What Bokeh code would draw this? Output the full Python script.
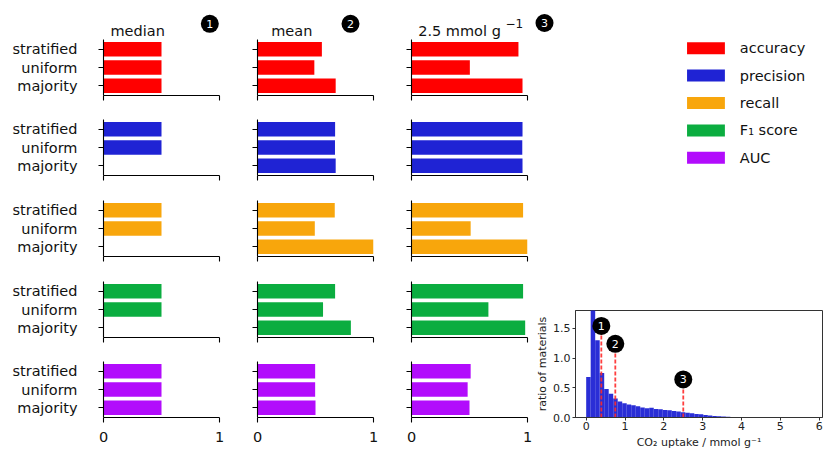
from bokeh.plotting import figure
from bokeh.layouts import row, column
from bokeh.models import Range1d, FixedTicker, NumeralTickFormatter
from bokeh.embed import file_html
from bokeh.resources import INLINE
from bokeh.core.properties import value
import numpy as np

FONT = "DejaVu Sans"
MAIN_SIZE = "14.5px"

# ---------------- data ----------------
methods = ["stratified", "uniform", "majority"]
method_pos = [2, 1, 0]
thresholds = ["median", "mean", "2.5 mmol g"]
threshold_badges = ["1", "2", "3"]
metrics = ["accuracy", "precision", "recall", "F\u2081 score", "AUC"]
metric_colors = ["#ff0000", "#1f23d4", "#f8a60c", "#0bad40", "#b20cfc"]

accuracy_median = [0.50, 0.50, 0.50]
accuracy_mean = [0.555, 0.49, 0.674]
accuracy_25 = [0.922, 0.503, 0.957]

precision_median = [0.50, 0.50, 0.0]
precision_mean = [0.669, 0.668, 0.674]
precision_25 = [0.957, 0.955, 0.957]

recall_median = [0.50, 0.50, 0.0]
recall_mean = [0.666, 0.494, 1.0]
recall_25 = [0.962, 0.51, 1.0]

f1_median = [0.50, 0.50, 0.0]
f1_mean = [0.669, 0.565, 0.805]
f1_25 = [0.962, 0.663, 0.980]

auc_median = [0.50, 0.50, 0.50]
auc_mean = [0.497, 0.497, 0.50]
auc_25 = [0.51, 0.484, 0.50]

scores = [
    [accuracy_median, accuracy_mean, accuracy_25],
    [precision_median, precision_mean, precision_25],
    [recall_median, recall_mean, recall_25],
    [f1_median, f1_mean, f1_25],
    [auc_median, auc_mean, auc_25],
]

# histogram of CO2 uptake (ratio of materials per bin)
hist_range = (0.0, 5.8)
hist_heights = [0.68, 2.40, 1.30, 0.75, 0.48, 0.40, 0.32, 0.27, 0.24, 0.22,
                0.205, 0.19, 0.17, 0.155, 0.165, 0.145, 0.14, 0.125, 0.12, 0.11,
                0.10, 0.09, 0.08, 0.07, 0.06, 0.055, 0.04, 0.035, 0.025, 0.02,
                0.015, 0.012, 0.010, 0.008, 0.006, 0.005, 0.004, 0.003, 0.003, 0.002,
                0.002, 0.001, 0.001, 0.001, 0.001, 0.0005, 0.0005, 0.0005, 0.0005, 0.0005]
threshold_values = [0.39, 0.75, 2.5]
threshold_marker_heights = [1.54, 1.24, 0.64]
hist_yticks = [0.0, 0.5, 1.0, 1.5]
hist_xticks = [0, 1, 2, 3, 4, 5, 6]

HIST_BLUE = "#1f23d4"
DASH_RED = "#ff2a2a"
TEXT_COLOR = "#111111"


def blank_fig(w, h, xr, yr, lb=0, rb=0):
    p = figure(width=w, height=h, x_range=Range1d(*xr), y_range=Range1d(*yr),
               output_backend="svg", toolbar_location=None,
               x_axis_location=None, y_axis_location=None,
               min_border=0, min_border_left=lb, min_border_right=rb,
               min_border_top=0, min_border_bottom=0)
    p.outline_line_color = None
    p.grid.visible = False
    p.background_fill_color = None
    p.border_fill_color = "white"
    return p


# ---------------- header (titles + badges), pixel frame ----------------
HEADER_W = 826
HEADER_H = 39
header = blank_fig(HEADER_W, HEADER_H, (0, HEADER_W), (HEADER_H, 0))
title_x = [110, 270.7, 417.7]
header.text(x=title_x, y=[30] * 3, text=thresholds,
            text_font=value(FONT), text_font_size=MAIN_SIZE,
            text_color=TEXT_COLOR, text_baseline="alphabetic", text_align="left")
header.text(x=[505], y=[22.7], text=["\u22121"], text_font=value(FONT),
            text_font_size="12px", text_color=TEXT_COLOR,
            text_baseline="alphabetic", text_align="left")
badge_x = [209.3, 350, 544]
badge_y = [23.3, 23.3, 22.5]
header.scatter(x=badge_x, y=badge_y, size=18, marker="circle",
               fill_color="black", line_color=None)
header.text(x=badge_x, y=[b + 0.2 for b in badge_y], text=threshold_badges,
            text_font=value(FONT), text_font_size="11px", text_color="white",
            text_align="center", text_baseline="middle")

# ---------------- bar panels ----------------
row_bottoms = [24, 25, 25, 24, 30]
FRAME_W = 116
FRAME_H = 56

panel_rows = []
for mi, metric in enumerate(metrics):
    figs = []
    for ti, thr in enumerate(thresholds):
        lb = 103 if ti == 0 else 28
        rb = 10 if ti < 2 else 6
        bb = row_bottoms[mi]
        p = figure(width=lb + FRAME_W + rb, height=FRAME_H + bb,
                   x_range=Range1d(0, 1), y_range=Range1d(-0.54, 2.54),
                   output_backend="svg", toolbar_location=None,
                   min_border_left=lb, min_border_right=rb,
                   min_border_top=0, min_border_bottom=bb)
        p.outline_line_color = None
        p.grid.visible = False
        p.hbar(y=method_pos, right=scores[mi][ti], left=0, height=0.8,
               fill_color=metric_colors[mi], line_color=None)

        xa = p.xaxis[0]
        xa.ticker = FixedTicker(ticks=[0, 1], minor_ticks=[])
        xa.axis_line_color = "black"
        xa.axis_line_width = 1.1
        xa.major_tick_line_color = "black"
        xa.major_tick_line_width = 1.1
        xa.major_tick_out = 5
        xa.major_tick_in = 0
        xa.minor_tick_line_color = None
        if mi == len(metrics) - 1:
            xa.major_label_text_font = FONT
            xa.major_label_text_font_size = MAIN_SIZE
            xa.major_label_text_color = TEXT_COLOR
            xa.major_label_standoff = 9
        else:
            xa.major_label_text_color = None
            xa.major_label_text_font_size = "1px"
            xa.major_label_standoff = 0

        ya = p.yaxis[0]
        ya.ticker = FixedTicker(ticks=method_pos, minor_ticks=[])
        ya.axis_line_color = "black"
        ya.axis_line_width = 1.1
        ya.major_tick_line_color = "black"
        ya.major_tick_line_width = 1.1
        ya.major_tick_out = 5
        ya.major_tick_in = 0
        ya.minor_tick_line_color = None
        if ti == 0:
            ya.major_label_overrides = {pos: name for pos, name in zip(method_pos, methods)}
            ya.major_label_text_font = FONT
            ya.major_label_text_font_size = MAIN_SIZE
            ya.major_label_text_color = TEXT_COLOR
            ya.major_label_standoff = 21
        else:
            ya.major_label_text_color = None
            ya.major_label_text_font_size = "1px"
            ya.major_label_standoff = 0
        figs.append(p)
    panel_rows.append(row(*figs, spacing=0))

left_block = column(*panel_rows, spacing=0)

# ---------------- legend (same frame as histogram) ----------------
H_LB, H_RB = 41, 4
RIGHT_W = 293
legend_fig = blank_fig(RIGHT_W, 271, (574, 574 + RIGHT_W - H_LB - H_RB), (310, 39),
                       lb=H_LB, rb=H_RB)
leg_y = [47.7 + 27.4 * i for i in range(len(metrics))]
legend_fig.rect(x=[705] * len(metrics), y=leg_y, width=38, height=12,
                fill_color=metric_colors, line_color=None)
legend_fig.text(x=[739] * len(metrics), y=leg_y, text=metrics,
                text_font=value(FONT), text_font_size=MAIN_SIZE,
                text_color=TEXT_COLOR, text_align="left", text_baseline="middle")

# ---------------- histogram ----------------
edges = np.linspace(hist_range[0], hist_range[1], len(hist_heights) + 1)
hist = figure(width=RIGHT_W, height=108 + 33, x_range=Range1d(-0.275, 6.085),
              y_range=Range1d(0, 1.8), output_backend="svg", toolbar_location=None,
              min_border_left=H_LB, min_border_right=H_RB, min_border_top=0,
              min_border_bottom=33)
hist.grid.visible = False
hist.outline_line_color = "#333333"
hist.outline_line_width = 1
hist.quad(left=edges[:-1], right=edges[1:], bottom=0, top=hist_heights,
          fill_color=HIST_BLUE, fill_alpha=0.95, line_color=None)
hist.segment(x0=threshold_values, y0=[0] * 3, x1=threshold_values,
             y1=threshold_marker_heights, line_color=DASH_RED, line_width=1.8,
             line_dash="4 2", line_alpha=0.9)
hist.scatter(x=threshold_values, y=threshold_marker_heights, size=18,
             marker="circle", fill_color="black", line_color=None)
hist.text(x=threshold_values, y=threshold_marker_heights, text=threshold_badges,
          text_font=value(FONT), text_font_size="11px", text_color="white",
          text_align="center", text_baseline="middle")

for ax in (hist.xaxis[0], hist.yaxis[0]):
    ax.axis_line_color = "#333333"
    ax.major_tick_line_color = "#333333"
    ax.major_tick_out = 3
    ax.major_tick_in = 0
    ax.minor_tick_line_color = None
    ax.major_label_text_font = FONT
    ax.major_label_text_font_size = "11px"
    ax.major_label_text_color = "#222222"
    ax.axis_label_text_font = FONT
    ax.axis_label_text_font_size = "11px"
    ax.axis_label_text_font_style = "normal"
    ax.axis_label_text_color = "#222222"

hist.xaxis[0].ticker = FixedTicker(ticks=hist_xticks, minor_ticks=[])
hist.xaxis[0].formatter = NumeralTickFormatter(format="0")
hist.xaxis[0].major_label_standoff = 1
hist.xaxis[0].axis_label_standoff = 3
hist.xaxis[0].axis_label = "CO\u2082 uptake / mmol g\u207b\u00b9"
hist.yaxis[0].ticker = FixedTicker(ticks=hist_yticks, minor_ticks=[])
hist.yaxis[0].formatter = NumeralTickFormatter(format="0.0")
hist.yaxis[0].major_label_standoff = 2
hist.yaxis[0].axis_label_standoff = 1
hist.yaxis[0].axis_label = "ratio of materials"

right_block = column(legend_fig, hist, spacing=0)

layout = column(header, row(left_block, right_block, spacing=0), spacing=0)

open("out.html", "w").write(file_html(layout, INLINE))
